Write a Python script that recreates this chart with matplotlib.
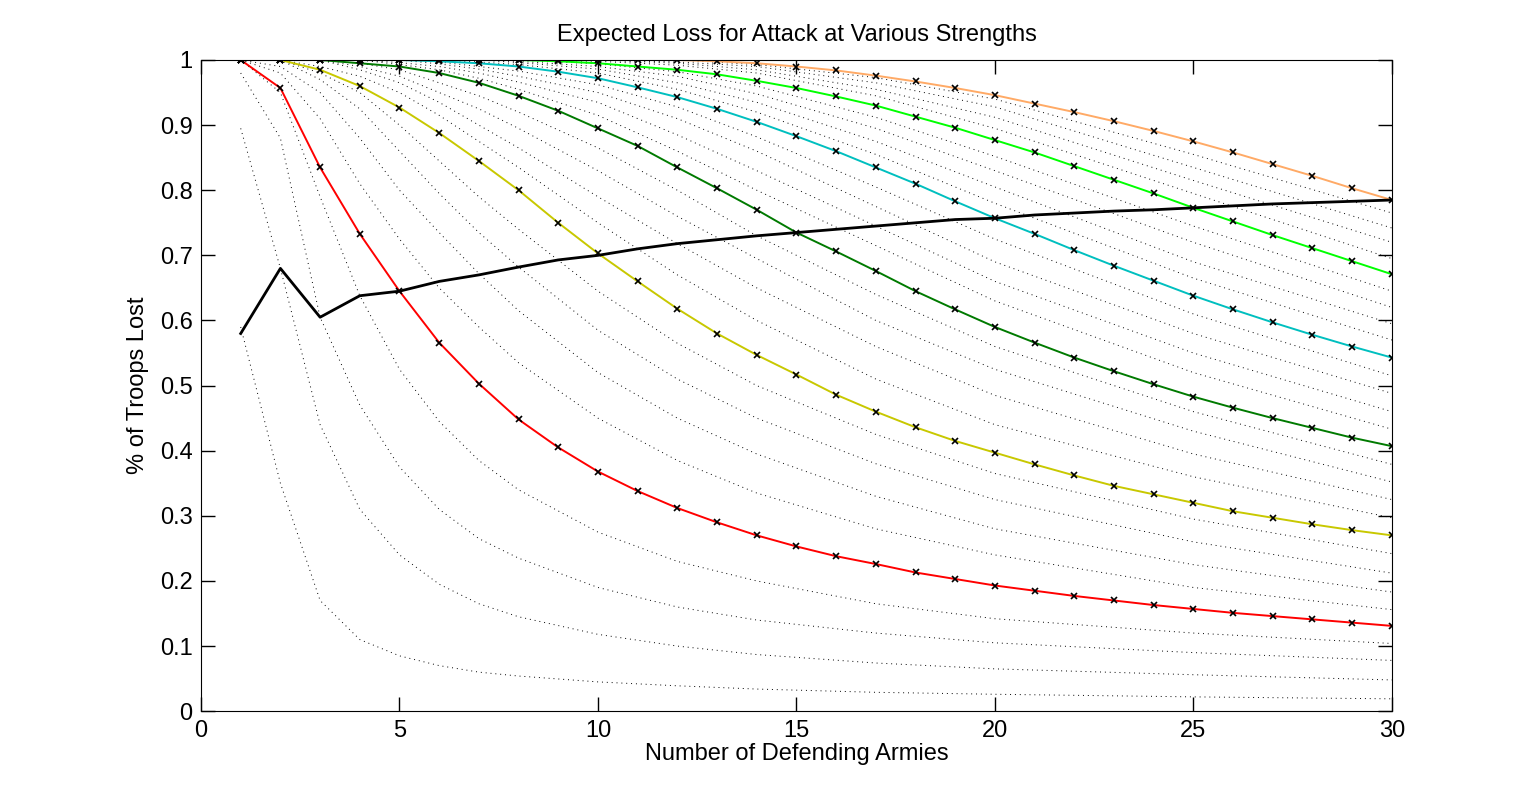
import matplotlib
matplotlib.use("Agg")
import matplotlib.pyplot as plt

plt.rcParams['font.family'] = ['Liberation Sans', 'DejaVu Sans']

x_full = list(range(1, 31))

red = [1, .957, .835, .733, .645, .566, .503, .448, .405, .368, .338, .312, .290, .270, .253,
       .238, .226, .213, .203, .193, .185, .177, .170, .163, .157, .151, .146, .141, .136, .131]
yellow = [1, 1, .985, .96, .927, .888, .845, .80, .75, .703, .66, .618, .58, .547, .517,
          .486, .46, .436, .415, .397, .379, .362, .346, .333, .32, .307, .297, .287, .278, .27]
dgreen = [1, 1, 1, .995, .99, .98, .965, .945, .922, .895, .868, .835, .803, .77, .735,
          .706, .676, .645, .617, .59, .566, .543, .522, .502, .483, .466, .45, .435, .42, .407]
cyan = [1, 1, 1, 1, 1, .998, .995, .99, .982, .972, .958, .943, .925, .905, .883,
        .86, .835, .81, .783, .757, .733, .708, .684, .661, .638, .617, .597, .578, .56, .543]
green = [1, 1, 1, 1, 1, 1, 1, 1, .998, .995, .99, .985, .978, .968, .957,
         .944, .93, .913, .896, .877, .858, .837, .816, .795, .773, .752, .731, .711, .691, .671]
orange = [1, 1, 1, 1, 1, 1, 1, 1, 1, 1, 1, 1, .998, .995, .99,
          .984, .976, .967, .957, .946, .933, .92, .906, .891, .875, .858, .84, .822, .803, .785]
diagonal = [.58, .68, .605, .638, .645, .66, .67, .682, .693, .70, .71, .718, .724, .73, .735,
            .74, .745, .75, .755, .757, .762, .765, .768, .77, .773, .776, .779, .781, .783, .785]

x_dot = [1, 2, 3, 4, 5, 6, 7, 8, 10, 12, 14, 17, 20, 25, 30]
dotted = [
    [.59, .35, .17, .11, .085, .07, .06, .054, .045, .039, .034, .029, .026, .022, .019],
    [.895, .68, .44, .31, .24, .195, .165, .145, .118, .1, .087, .074, .065, .056, .048],
    [.98, .88, .605, .47, .375, .31, .265, .235, .19, .16, .14, .12, .105, .09, .078],
    [1, .95, .79, .638, .525, .445, .385, .34, .275, .23, .2, .165, .142, .12, .104],
    [1, .98, .91, .81, .725, .65, .59, .535, .45, .385, .335, .28, .24, .19, .156],
    [1, .99, .95, .88, .8, .735, .672, .615, .52, .45, .395, .33, .28, .225, .183],
    [1, 1, .97, .925, .86, .795, .735, .682, .585, .51, .45, .38, .325, .26, .212],
    [1, 1, .98, .95, .9, .845, .79, .74, .645, .565, .5, .425, .365, .295, .242],
    [1, 1, .99, .975, .95, .915, .875, .835, .75, .67, .6, .51, .44, .36, .297],
    [1, 1, 1, .985, .965, .935, .9, .865, .79, .718, .65, .56, .485, .395, .325],
    [1, 1, 1, .99, .975, .95, .925, .895, .83, .76, .695, .6, .525, .43, .352],
    [1, 1, 1, .995, .985, .965, .945, .92, .865, .8, .73, .64, .56, .46, .379],
    [1, 1, 1, 1, .993, .985, .972, .955, .915, .86, .8, .715, .63, .52, .433],
    [1, 1, 1, 1, .996, .99, .98, .966, .935, .885, .83, .745, .66, .55, .46],
    [1, 1, 1, 1, 1, .994, .986, .975, .95, .91, .86, .775, .69, .58, .488],
    [1, 1, 1, 1, 1, .997, .99, .983, .962, .928, .882, .805, .725, .61, .515],
    [1, 1, 1, 1, 1, 1, .997, .993, .98, .955, .92, .855, .78, .665, .57],
    [1, 1, 1, 1, 1, 1, 1, .996, .986, .965, .935, .875, .805, .69, .595],
    [1, 1, 1, 1, 1, 1, 1, .998, .99, .975, .948, .895, .83, .72, .62],
    [1, 1, 1, 1, 1, 1, 1, 1, .994, .982, .96, .912, .852, .745, .645],
    [1, 1, 1, 1, 1, 1, 1, 1, .998, .992, .98, .945, .895, .795, .695],
    [1, 1, 1, 1, 1, 1, 1, 1, 1, .995, .985, .955, .912, .815, .72],
    [1, 1, 1, 1, 1, 1, 1, 1, 1, .997, .99, .965, .928, .835, .742],
    [1, 1, 1, 1, 1, 1, 1, 1, 1, 1, .993, .973, .94, .855, .765],
]

colored = [(red, '#ff0000'), (yellow, '#c8c800'), (dgreen, '#007a00'),
           (cyan, '#00bfbf'), (green, '#00ff00'), (orange, '#ffaa66')]

fig = plt.figure(figsize=(15.38, 8), dpi=100)
ax = fig.add_axes([0.1307, 0.111, 0.7743, 0.814])

for ys in dotted:
    ax.plot(x_dot, ys, color='black', lw=0.7, linestyle=(0, (1, 4)))
for ys, c in colored:
    ax.plot(x_full, ys, '-', color=c, lw=1.4)
    ax.plot(x_full, ys, 'x', color='black', ms=5, mew=1.2)
ax.plot(x_full, diagonal, '-', color='black', lw=2)

ax.set_xlim(0, 30)
ax.set_ylim(0, 1)
ax.set_xticks([0, 5, 10, 15, 20, 25, 30])
ax.set_yticks([i / 10 for i in range(11)])
ax.set_yticklabels(['0', '0.1', '0.2', '0.3', '0.4', '0.5', '0.6', '0.7', '0.8', '0.9', '1'])
ax.tick_params(direction='in', top=True, right=True, labelsize=17, length=10, width=1, pad=6)
ax.set_xlabel('Number of Defending Armies', fontsize=17, labelpad=1)
ax.set_ylabel('% of Troops Lost', fontsize=17, labelpad=8)
ax.set_title('Expected Loss for Attack at Various Strengths', fontsize=17, pad=14)

fig.savefig('out.png', dpi=100)
